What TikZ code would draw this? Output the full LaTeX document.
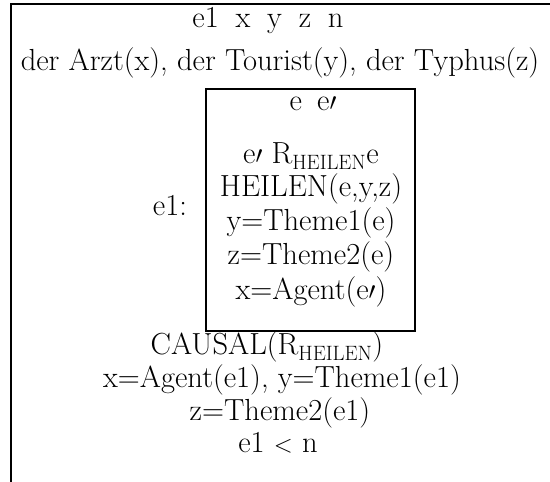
\documentclass[tikz,border=0pt]{standalone}
\begin{document}
\begin{tikzpicture}[x=1pt,y=-1pt,
  frame/.style={line width=1.8pt, line cap=rect},
  txt/.style={font=\fontsize{30.5}{36}\selectfont, inner sep=0pt, text height=0.75em, text depth=0.25em},
  innerbox/.style={draw, line width=1.8pt, minimum width=209pt, minimum height=242pt, inner sep=0pt}]
\useasboundingbox (0,0) rectangle (550,482);
\coordinate (obl) at (11,482);
\coordinate (otl) at (11,4);
\coordinate (otr) at (550,4);
\draw[frame] (obl) -- (otl) -- (otr);
\node[innerbox] (inner) at (310.5,210) {};
\node[txt] (refs) at (268,25) {e1\hspace{0.55em}x\hspace{0.55em}y\hspace{0.55em}z\hspace{0.55em}n};
\node[txt] (conds) at (280,68) {der Arzt(x), der Tourist(y), der Typhus(z)};
\node[txt] (irefs) at (313,108) {e\hspace{0.5em}e$\prime$};
\node[txt] (rel) at (311,161) {e$\prime$ R$_{\mathrm{HEILEN}}$e};
\node[txt] (heilen) at (311,194) {HEILEN(e,y,z)};
\node[txt] (th1) at (311,228) {y=Theme1(e)};
\node[txt] (th2) at (311,262) {z=Theme2(e)};
\node[txt] (ag) at (311,297) {x=Agent(e$\prime$)};
\node[txt] (lab) at (170,213) {e1:};
\node[txt] (causal) at (267,352) {CAUSAL(R$_{\mathrm{HEILEN}}$)};
\node[txt] (ag1) at (282,385) {x=Agent(e1), y=Theme1(e1)};
\node[txt] (th21) at (280,418) {z=Theme2(e1)};
\node[txt] (ord) at (278,450) {e1 $<$ n};
\end{tikzpicture}
\end{document}
